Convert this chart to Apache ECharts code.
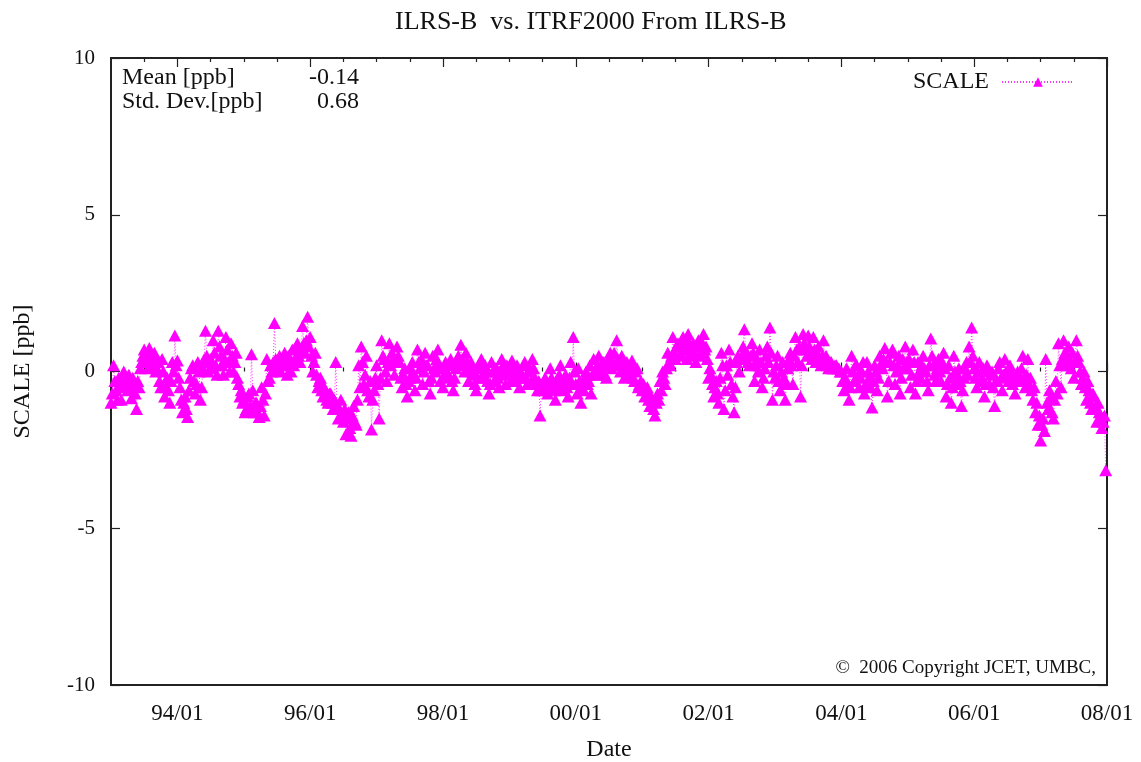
<!DOCTYPE html>
<html>
<head>
<meta charset="utf-8">
<script src="https://cdn.jsdelivr.net/npm/echarts@6/dist/echarts.min.js"></script>
<style>html,body{margin:0;padding:0;background:#fff;}#c{width:1141px;height:762px;}</style>
</head>
<body>
<div id="c"></div>
<script>
// SCALE residuals [ppb], 52 weekly solutions per year
const scale1993 = [-1.0,-0.7, 0.2,-0.3, -0.6,-0.9, -0.2,-0.5, -0.9,-0.4, 0.0,-0.2, -0.3,-0.6, -0.1,-0.5, -0.85,-0.2, -0.4,-0.7, -1.2,-0.3, -0.5,0.1, 0.3,0.5, 0.7,0.3, 0.5,0.1, 0.75,0.4, 0.2,0.5, 0.6,0.0, 0.1,0.3, -0.3,-0.5, 0.4,0.0, -0.8,-0.5, -0.2,-0.6, -1.0,-0.3, 0.3,0.0, 1.15,0.2];
const scale1994 = [0.35,-0.2, -0.5,-0.9, -1.3,-1.0, -0.8,-1.2, -1.45,-0.6, -0.2,0.1, 0.2,-0.3, -0.7,-0.4, 0.3,0.0, -0.9,-0.5, 0.1,0.4, 1.3,0.5, 0.0,0.3, 0.4,0.1, 1.0,0.6, 0.2,-0.1, 1.3,0.8, 0.5,0.2, -0.1,0.4, 1.1,0.7, 0.3,0.0, 0.9,0.5, 0.0,0.3, 0.6,-0.2, -0.4,-0.8, -0.6,-1.0];
const scale1995 = [-0.9,-1.3, -1.2,-0.8, -0.7,-1.1, 0.55,-0.6, -1.3,-1.0, -1.0,-1.3, -1.45,-1.1, -0.5,-0.9, -1.4,-0.7, 0.4,-0.3, -0.2,0.2, 0.0,0.3, 1.55,0.4, 0.1,0.3, 0.5,0.0, 0.2,0.4, 0.6,0.2, -0.1,0.5, 0.3,0.0, 0.7,0.2, 0.4,0.8, 0.9,0.5, 0.3,0.7, 1.45,0.9, 0.6,1.0, 1.75,0.8];
const scale1996 = [1.1,0.5, 0.0,0.3, 0.6,-0.1, -0.5,-0.3, -0.2,-0.6, -0.8,-0.5, -0.6,-0.9, -1.0,-0.7, -0.7,-1.0, -1.2,-0.9, 0.3,-1.1, -1.5,-1.2, -0.9,-1.4, -1.6,-1.2, -2.0,-1.5, -1.3,-1.8, -2.05,-1.4, -1.1,-1.6, -1.7,-0.9, 0.2,-0.5, 0.8,0.3, -0.4,-0.1, 0.5,-0.6, -0.8,-0.3, -1.85,-0.9, -0.6,-0.2];
const scale1997 = [0.2,-0.4, -1.5,-0.2, 1.0,0.5, 0.4,0.0, -0.3,0.3, 0.9,0.2, 0.6,0.4, -0.1,0.3, 0.8,0.5, 0.3,-0.2, -0.5,-0.1, 0.1,-0.4, -0.8,-0.3, -0.2,0.1, 0.3,-0.1, -0.6,-0.2, 0.7,0.3, 0.1,0.4, -0.4,0.0, 0.6,0.2, 0.2,-0.3, -0.7,-0.2, 0.5,0.1, 0.0,0.4, 0.7,0.2, -0.3,0.1];
const scale1998 = [-0.5,-0.1, 0.3,0.0, -0.2,0.2, 0.4,-0.3, -0.6,-0.2, 0.1,0.3, 0.5,0.2, 0.85,0.4, 0.2,0.0, 0.6,0.3, -0.3,0.1, 0.3,0.0, -0.1,-0.4, -0.6,-0.2, 0.2,0.1, 0.4,-0.1, -0.2,0.2, 0.0,-0.3, -0.7,-0.4, 0.3,0.0, -0.3,0.1, 0.1,-0.2, -0.5,0.0, 0.4,0.2, -0.1,-0.4, 0.2,0.0];
const scale1999 = [0.0,-0.3, 0.35,0.1, -0.3,-0.1, 0.2,0.0, -0.5,-0.2, -0.1,0.2, 0.3,-0.2, -0.4,0.0, 0.1,-0.3, 0.4,0.1, -0.2,-0.4, -0.6,-0.3, -1.4,-0.6, -0.5,-0.3, -0.2,-0.5, -0.7,-0.4, 0.1,-0.2, -0.4,-0.6, -0.9,-0.5, -0.3,-0.1, 0.2,-0.4, -0.6,-0.3, -0.1,-0.5, -0.8,-0.2, 0.3,-0.4, 1.1,0.0];
const scale2000 = [-0.4,-0.7, 0.1,-0.3, -1.0,-0.5, -0.6,-0.2, 0.0,-0.4, -0.3,0.2, -0.7,-0.1, 0.4,0.0, -0.1,0.2, 0.5,0.1, 0.0,0.3, 0.3,-0.1, -0.2,0.2, 0.4,0.6, 0.1,0.3, 0.6,0.2, 1.0,0.4, 0.2,0.0, 0.5,0.3, -0.2,0.1, 0.3,-0.1, 0.0,0.2, 0.35,-0.2, -0.3,0.0, 0.1,-0.5, -0.4,-0.3];
const scale2001 = [-0.6,-0.4, -0.8,-0.6, -0.5,-0.9, -1.1,-0.8, -0.9,-1.2, -1.4,-1.0, -0.7,-0.9, -0.3,-0.6, 0.0,-0.2, -0.4,0.1, 0.6,0.3, 0.2,0.5, 1.1,0.6, 0.4,0.8, 0.9,0.5, 0.6,1.0, 1.1,0.8, 0.7,0.4, 1.2,0.9, 0.5,0.7, 0.9,0.6, 0.3,0.8, 1.0,0.5, 0.6,0.9, 1.2,0.7, 0.8,0.4];
const scale2002 = [-0.2,0.1, -0.1,-0.4, -0.8,-0.5, -0.3,-0.7, -1.0,-0.2, 0.6,0.2, -1.2,-0.6, 0.2,-0.1, 0.7,0.3, -0.4,-0.8, -1.3,-0.5, 0.3,0.5, 0.0,0.4, 0.5,0.8, 1.35,0.6, 0.6,0.3, 0.2,0.5, 0.9,0.6, -0.3,0.2, 0.4,0.0, 0.7,0.3, -0.5,-0.2, 0.1,0.5, 0.8,0.3, 1.4,0.6, -0.9,0.0];
const scale2003 = [-0.2,0.2, 0.5,-0.3, -0.6,0.0, 0.3,-0.2, -0.9,-0.4, 0.1,0.4, 0.6,0.2, -0.4,0.5, 1.1,0.7, 0.3,0.8, -0.8,0.2, 1.2,0.9, 0.7,0.5, 1.15,0.8, 0.6,0.4, 1.1,0.7, 0.3,0.6, 0.8,0.4, 0.2,0.5, 1.0,0.3, 0.5,0.2, 0.1,0.3, 0.3,0.1, 0.1,0.2, 0.2,0.1, 0.1,0.0];
const scale2004 = [0.0,-0.3, -0.6,-0.2, 0.1,-0.4, -0.9,-0.5, 0.5,0.0, -0.3,0.2, 0.2,-0.1, -0.5,-0.2, 0.0,0.3, -0.7,-0.4, 0.3,0.0, -0.2,-0.5, -1.15,-0.3, 0.2,0.0, -0.6,-0.2, 0.5,0.2, 0.1,0.4, 0.75,0.3, -0.8,-0.3, 0.3,0.6, 0.7,0.2, -0.4,0.0, 0.2,0.5, -0.7,-0.2, 0.4,0.1, 0.8,0.3];
const scale2005 = [0.1,0.4, -0.5,-0.1, 0.7,0.3, -0.7,-0.3, 0.3,0.0, -0.2,0.2, 0.5,0.1, 0.0,-0.3, -0.6,0.2, 1.05,0.5, 0.2,-0.1, -0.3,0.1, 0.4,0.0, -0.3,0.3, 0.6,0.1, -0.8,-0.4, 0.2,-0.2, -1.0,-0.5, 0.5,0.0, -0.4,-0.1, 0.1,-0.3, -1.1,-0.6, -0.2,0.1, 0.3,-0.1, 0.8,0.3, 1.4,0.5];
const scale2006 = [0.1,-0.2, -0.5,0.0, 0.3,-0.3, -0.2,0.1, -0.8,-0.4, 0.2,0.0, -0.4,-0.1, 0.0,-0.5, -1.1,-0.3, -0.3,0.1, 0.3,-0.2, -0.6,-0.1, 0.4,0.0, -0.1,-0.3, 0.2,0.0, -0.4,-0.2, -0.7,-0.1, 0.0,-0.3, -0.3,0.1, 0.5,-0.2, -0.5,-0.1, 0.4,-0.4, -0.2,-0.6, -0.9,-0.5, -1.3,-1.0, -1.7,-1.4];
const scale2007 = [-2.2,-1.7, -1.5,-1.9, 0.4,-1.0, -1.2,-0.6, -0.8,-1.3, -1.5,-0.9, -0.3,-0.7, 0.9,0.2, -0.5,0.4, 1.0,0.6, 0.2,0.5, 0.8,0.3, 0.1,0.6, -0.2,0.3, 1.0,0.5, 0.3,0.0, -0.4,-0.2, 0.0,-0.5, -0.9,-0.3, -0.6,-1.0, -1.2,-0.7, -0.8,-1.1, -1.6,-1.0, -1.3,-1.5, -1.8,-1.6, -1.4,-3.15];

const years = [1993, 1994, 1995, 1996, 1997, 1998, 1999, 2000, 2001, 2002, 2003, 2004, 2005, 2006, 2007];
const yearly = [scale1993, scale1994, scale1995, scale1996, scale1997, scale1998, scale1999, scale2000, scale2001, scale2002, scale2003, scale2004, scale2005, scale2006, scale2007];

const xMajorTicks = [1994, 1996, 1998, 2000, 2002, 2004, 2006, 2008];
const xMinorTicks = [1993.5, 1994.5, 1995, 1995.5, 1996.5, 1997, 1997.5, 1998.5, 1999, 1999.5, 2000.5, 2001, 2001.5, 2002.5, 2003, 2003.5, 2004.5, 2005, 2005.5, 2006.5, 2007, 2007.5];

const titleText = 'ILRS-B  vs. ITRF2000 From ILRS-B';
const statsLabels = ['Mean [ppb]', 'Std. Dev.[ppb]'];
const statsValues = ['-0.14', '0.68'];
const copyright = '\u00A9  2006 Copyright JCET, UMBC,';

const points = [];
years.forEach((yr, k) => {
  const arr = yearly[k];
  arr.forEach((v, i) => points.push([yr + i / arr.length, v]));
});

const FONT = 'Liberation Serif';
const MAG = '#ff00ff';
const txt = {fontFamily: FONT, fontSize: 24, color: '#111'};

const chart = echarts.init(document.getElementById('c'), null, {renderer: 'canvas'});

function xAx(pos, ticks, len, labels) {
  return {
    type: 'value', position: pos, min: 1993, max: 2008, gridIndex: 0,
    axisLine: {show: false},
    splitLine: {show: false},
    axisTick: {show: true, inside: true, length: len, customValues: ticks, lineStyle: {color: '#222', width: 1.2}},
    axisLabel: labels ? {show: true, customValues: ticks, margin: 17, fontFamily: FONT, fontSize: 23, color: '#111',
      formatter: v => String(Math.round(v) % 100).padStart(2, '0') + '/01'} : {show: false},
    name: labels ? 'Date' : '', nameLocation: 'middle', nameGap: 53,
    nameTextStyle: txt
  };
}

chart.setOption({
  animation: false,
  backgroundColor: '#fff',
  title: {text: titleText, left: 390, top: 4, textStyle: {fontFamily: FONT, fontSize: 26, fontWeight: 'normal', color: '#111'}},
  grid: {left: 111, right: 34, top: 58, bottom: 77, containLabel: false, outerBoundsMode: 'none',
         show: true, borderColor: '#222', borderWidth: 2, backgroundColor: 'transparent'},
  legend: {
    show: true, right: 66, top: 70, padding: 0, align: 'right', itemWidth: 72, itemHeight: 12, itemGap: 10,
    textStyle: {fontFamily: FONT, fontSize: 24, color: '#111', padding: [0, 8, 0, 0]},
    data: ['SCALE']
  },
  xAxis: [
    xAx('bottom', xMajorTicks, 9, true),
    xAx('bottom', xMinorTicks, 4, false),
    xAx('top', xMajorTicks, 9, false),
    xAx('top', xMinorTicks, 4, false)
  ],
  yAxis: [
    {type: 'value', position: 'left', min: -10, max: 10, interval: 5,
     axisLine: {show: false}, splitLine: {show: false},
     axisTick: {show: true, inside: true, length: 9, lineStyle: {color: '#222', width: 1.2}},
     axisLabel: {show: true, margin: 16, fontFamily: FONT, fontSize: 21, color: '#111'},
     name: 'SCALE [ppb]', nameLocation: 'middle', nameGap: 76, nameRotate: 90, nameTextStyle: txt},
    {type: 'value', position: 'right', min: -10, max: 10, interval: 5,
     axisLine: {show: false}, splitLine: {show: false},
     axisTick: {show: true, inside: true, length: 9, lineStyle: {color: '#222', width: 1.2}},
     axisLabel: {show: false}}
  ],
  graphic: [
    {type: 'text', left: 122, top: 66, style: {text: statsLabels[0], font: '24px "Liberation Serif"', fill: '#111'}},
    {type: 'text', left: 122, top: 90, style: {text: statsLabels[1], font: '24px "Liberation Serif"', fill: '#111'}},
    {type: 'text', right: 1141 - 359, top: 66, style: {text: statsValues[0], font: '24px "Liberation Serif"', fill: '#111', align: 'right'}},
    {type: 'text', right: 1141 - 359, top: 90, style: {text: statsValues[1], font: '24px "Liberation Serif"', fill: '#111', align: 'right'}},
    {type: 'text', right: 1141 - 1096, top: 659, style: {text: copyright, font: '19px "Liberation Serif"', fill: '#111', align: 'right'}}
  ],
  series: [{
    name: 'SCALE', type: 'line', xAxisIndex: 0, yAxisIndex: 0,
    data: points,
    symbol: 'triangle', symbolSize: [13, 12],
    itemStyle: {color: MAG},
    lineStyle: {color: MAG, width: 1, type: [1, 2], opacity: 0.8},
    showAllSymbol: true,
    z: 3
  }]
});
</script>
</body>
</html>
